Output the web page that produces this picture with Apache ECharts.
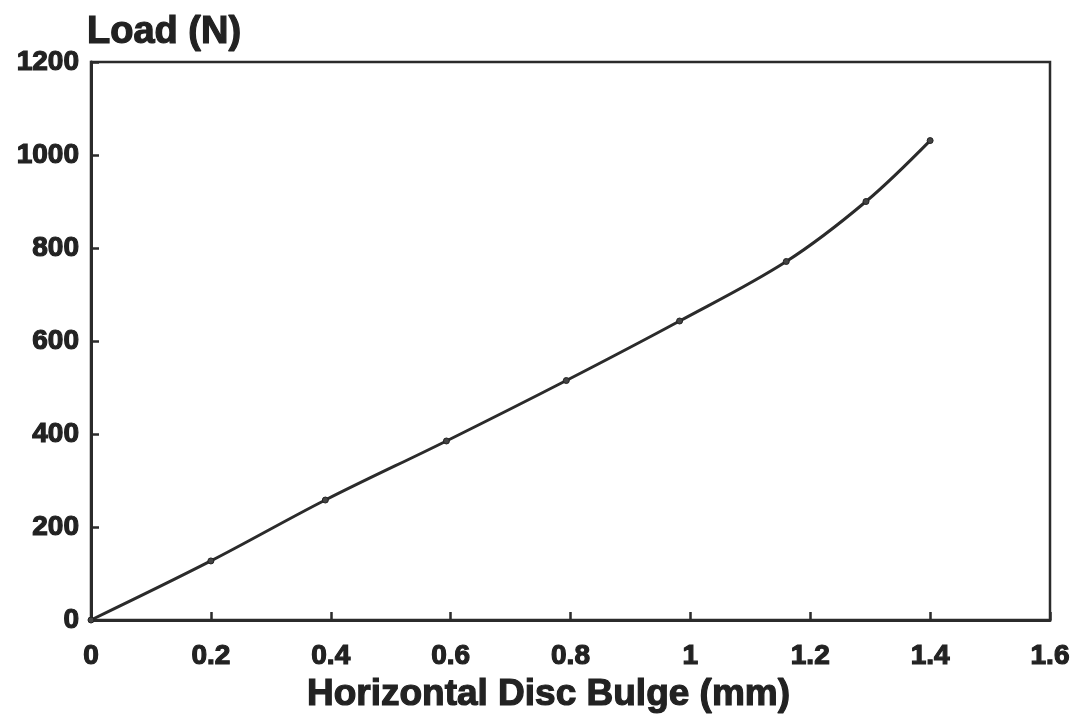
<!DOCTYPE html>
<html>
<head>
<meta charset="utf-8">
<script src="https://cdn.jsdelivr.net/npm/echarts@6/dist/echarts.min.js"></script>
<style>html,body{margin:0;padding:0;background:#fff;}#c{width:1070px;height:722px;}</style>
</head>
<body>
<div id="c"></div>
<script>
const bulge = [0, 0.2, 0.391, 0.593, 0.793, 0.982, 1.160, 1.293, 1.40];
const load = [0, 127, 258, 385, 515, 643, 771, 900, 1031];
const xTicks = [0, 0.2, 0.4, 0.6, 0.8, 1, 1.2, 1.4, 1.6];
const yTicks = [0, 200, 400, 600, 800, 1000, 1200];
const xName = 'Horizontal Disc Bulge (mm)';
const yName = 'Load (N)';

const pts = bulge.map((x, i) => [x, load[i]]);
const ink = '#2b2b2b';
const labelFont = {color: '#222', fontFamily: 'Liberation Sans', fontWeight: 'bold', fontSize: 28,
  textBorderColor: '#222', textBorderWidth: 1.2};

const chart = echarts.init(document.getElementById('c'), null, {renderer: 'canvas'});
chart.setOption({
  animation: false,
  backgroundColor: '#fff',
  grid: {left: 91, right: 20, top: 62, bottom: 102, outerBoundsMode: 'none', containLabel: false,
    show: true, borderColor: ink, borderWidth: 2.5, backgroundColor: 'transparent'},
  xAxis: {
    type: 'value', min: 0, max: 1.6, interval: 0.2,
    name: xName, nameLocation: 'middle', nameGap: 50,
    nameTextStyle: {color: '#222', fontFamily: 'Liberation Sans', fontWeight: 'bold', fontSize: 37,
      verticalAlign: 'top', padding: [0, 44, 0, 0], textBorderColor: '#222', textBorderWidth: 1.2},
    axisLine: {show: true, lineStyle: {color: ink, width: 3}},
    axisTick: {show: true, inside: true, length: 8, lineStyle: {color: ink, width: 2.5}},
    splitLine: {show: false},
    axisLabel: Object.assign({margin: 22, formatter: v => String(+(+v).toFixed(1))}, labelFont)
  },
  yAxis: {
    type: 'value', min: 0, max: 1200, interval: 200,
    name: yName, nameLocation: 'end', nameGap: 10,
    nameTextStyle: {color: '#222', fontFamily: 'Liberation Sans', fontWeight: 'bold', fontSize: 38,
      align: 'left', verticalAlign: 'bottom', padding: [0, 0, 0, -4],
      textBorderColor: '#222', textBorderWidth: 1.2},
    axisLine: {show: true, lineStyle: {color: ink, width: 3}},
    axisTick: {show: true, inside: true, length: 8, lineStyle: {color: ink, width: 2.5}},
    splitLine: {show: false},
    axisLabel: Object.assign({margin: 12, formatter: v => String(v)}, labelFont)
  },
  series: [{
    type: 'line',
    data: pts,
    smooth: 0.35,
    symbol: 'circle',
    symbolSize: 6,
    showSymbol: true,
    itemStyle: {color: '#444', borderColor: '#222', borderWidth: 1},
    lineStyle: {color: ink, width: 3}
  }]
});
</script>
</body>
</html>
